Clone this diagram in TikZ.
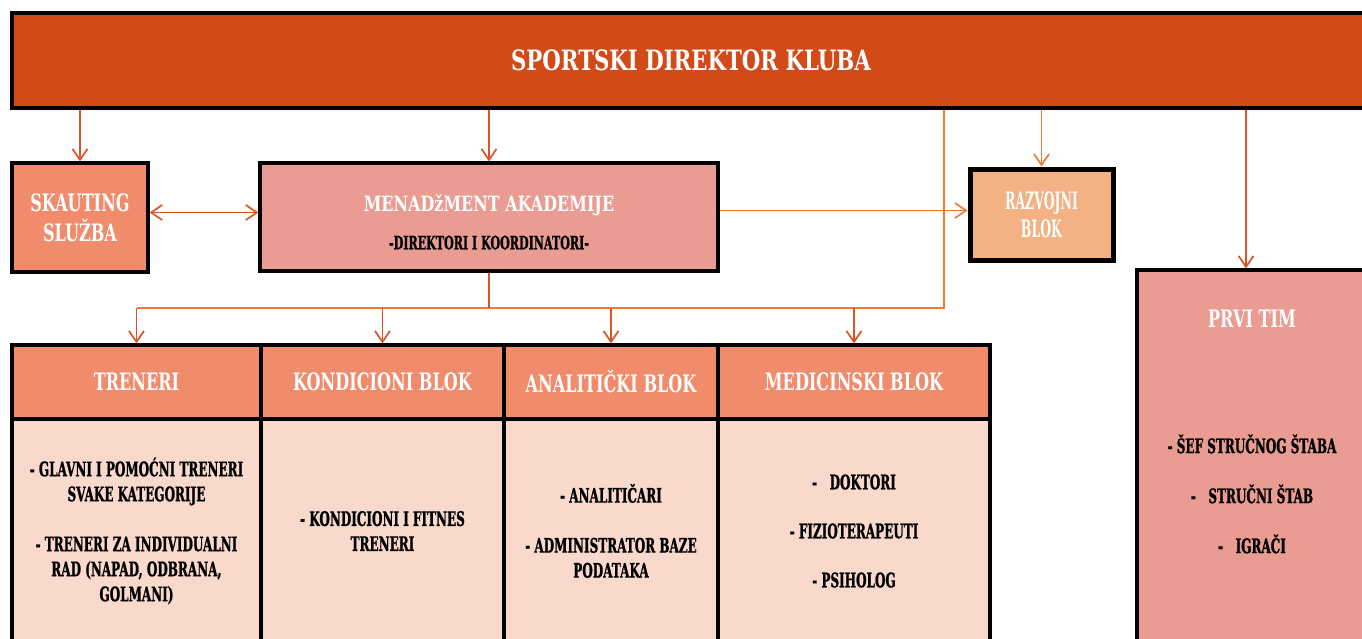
\documentclass[tikz,border=0pt]{standalone}
\usepackage{fontspec}
\newfontfamily\titlefont{DejaVu Serif}[FakeStretch=0.76]
\newfontfamily\headfont{DejaVu Serif}[FakeStretch=0.67]
\newfontfamily\boxfont{DejaVu Serif}[FakeStretch=0.52]
\newfontfamily\bodyfont{DejaVu Serif}[FakeStretch=0.6,FakeBold=1]
\usetikzlibrary{arrows.meta}
\usetikzlibrary{positioning}

\definecolor{dirred}{HTML}{D24A18}
\definecolor{salmon}{HTML}{F08C6C}
\definecolor{rose}{HTML}{EA9C92}
\definecolor{peach}{HTML}{F4B183}
\definecolor{pale}{HTML}{F9D9CC}
\definecolor{linkred}{HTML}{DA5428}
\definecolor{linkorange}{HTML}{EE7A36}

\tikzset{
  >={Straight Barb[length=11pt,width=15pt]},
  box/.style={draw=black,line width=3.2pt,inner sep=0pt,align=center},
  titletxt/.style={text=white,font=\titlefont\bfseries\fontsize{28}{34}\selectfont},
  headtxt/.style={text=white,font=\headfont\bfseries\fontsize{24}{30}\selectfont},
  boxtxt/.style={text=white,align=center,font=\boxfont\bfseries\fontsize{24}{28}\selectfont},
  bodytxt/.style={text=black,align=center,font=\bodyfont\bfseries\fontsize{20}{25}\selectfont},
  line/.style={draw=linkred,line width=1.7pt},
  link/.style={line,->},
}

\begin{document}
\begin{tikzpicture}[x=1pt,y=-1pt]
  \useasboundingbox (0,0) rectangle (1362,638);
  \clip (0,0) rectangle (1362,638);

  % director and the boxes under it
  \node [box,fill=dirred,minimum width=1358pt,minimum height=95pt,titletxt] (dir) at (691,60.5) {SPORTSKI DIREKTOR KLUBA};

  \node [box,fill=salmon,minimum width=136pt,minimum height=109pt,headtxt,align=center] (skaut) at (80,217.5) {SKAUTING\\SLUŽBA};

  \node [box,fill=rose,minimum width=458pt,minimum height=108pt] (menad) at (489,217) {};
  \node [align=center] (menadtxt) at ([yshift=-5pt]menad)
    {{\titlefont\bfseries\color{white}\fontsize{21}{26}\selectfont MENADžMENT AKADEMIJE}\\[19pt]
     {\bodyfont\bfseries\fontsize{18.5}{22}\selectfont -DIREKTORI I KOORDINATORI-}};

  \node [box,line width=5pt,fill=peach,minimum width=143pt,minimum height=91pt,boxtxt] (razv) at (1041.5,214.5) {RAZVOJNI\\BLOK};

  \node [box,fill=rose,minimum width=230pt,minimum height=448pt] (prvi) at (1252,494) {};
  \node [headtxt] (prvititle) at (1252,319) {PRVI TIM};
  \node [bodytxt] (prvilist) at (prvi) {- ŠEF STRUČNOG ŠTABA\\[25pt]-~~~STRUČNI ŠTAB\\[25pt]-~~~IGRAČI};

  % the table of blocks
  \node [box,fill=salmon,minimum width=249pt,minimum height=74pt,headtxt] (tren) at (136.5,382) {TRENERI};
  \node [box,fill=salmon,minimum width=243pt,minimum height=74pt,headtxt] (kond) at (382.5,382) {KONDICIONI BLOK};
  \node [box,fill=salmon,minimum width=214pt,minimum height=74pt,headtxt] (anal) at (611,382) {ANALITIČKI BLOK};
  \node [box,fill=salmon,minimum width=272pt,minimum height=74pt,headtxt] (medi) at (854,382) {MEDICINSKI BLOK};

  \node [box,fill=pale,minimum width=249pt,minimum height=224pt,bodytxt] (trenbody) at (136.5,531)
    {- GLAVNI I POMOĆNI TRENERI\\SVAKE KATEGORIJE\\[25pt]- TRENERI ZA INDIVIDUALNI\\RAD (NAPAD, ODBRANA,\\GOLMANI)};
  \node [box,fill=pale,minimum width=243pt,minimum height=224pt,bodytxt] (kondbody) at (382.5,531)
    {- KONDICIONI I FITNES\\TRENERI};
  \node [box,fill=pale,minimum width=214pt,minimum height=224pt,bodytxt] (analbody) at (611,531)
    {- ANALITIČARI\\[25pt]- ADMINISTRATOR BAZE\\PODATAKA};
  \node [box,fill=pale,minimum width=272pt,minimum height=224pt,bodytxt] (medibody) at (854,531)
    {-~~~DOKTORI\\[24pt]- FIZIOTERAPEUTI\\[24pt]- PSIHOLOG};

  % connectors
  \coordinate (bus) at (944,308);
  \coordinate (prvitop) at ([xshift=-6pt]prvi.north);

  \draw [link] (dir.south -| skaut) -- (skaut.north);
  \draw [link] (dir.south -| menad) -- (menad.north);
  \draw [link,draw=linkorange] (dir.south -| razv) -- (razv.north);
  \draw [link] (dir.south -| prvitop) -- (prvitop);

  \draw [line,draw=linkorange] (dir.south -| bus) -- (bus) -- (bus -| tren);
  \draw [line] (menad.south) -- (menad.south |- bus);
  \foreach \blk in {tren,kond,anal,medi}
    \draw [link] (bus -| \blk) -- (\blk.north);

  \draw [line,<->] ([yshift=5pt]skaut.east) -- ([yshift=5pt]skaut.east -| menad.west);
  \draw [link,draw=linkorange] ([yshift=4pt]razv.west -| menad.east) -- ([yshift=4pt]razv.west);
\end{tikzpicture}
\end{document}
